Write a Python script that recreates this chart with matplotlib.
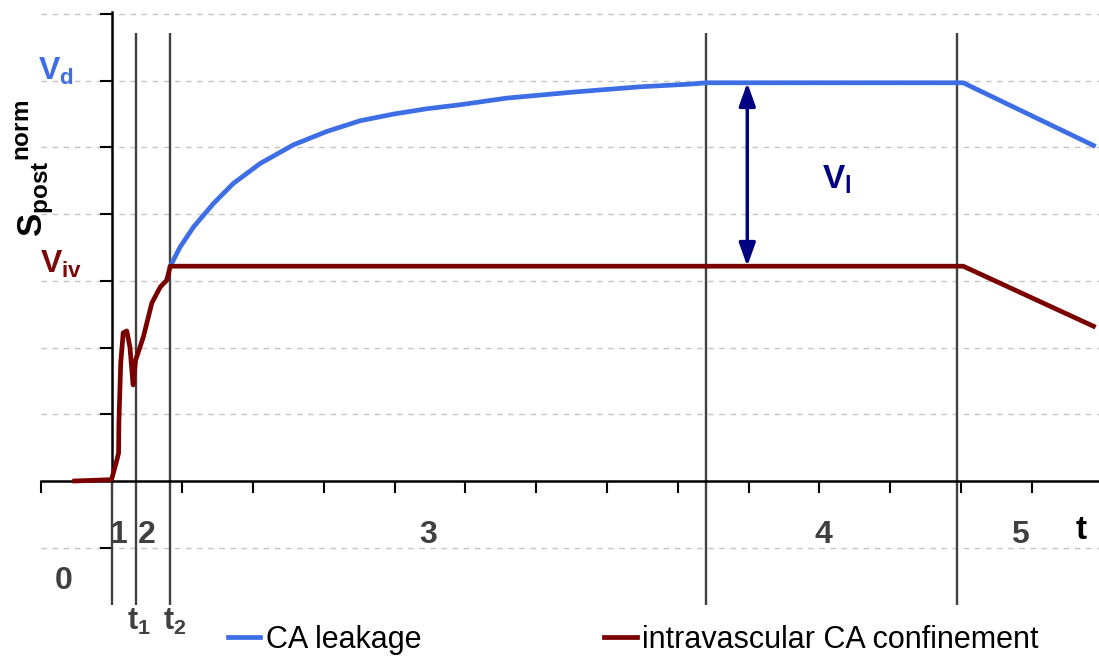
import numpy as np
import matplotlib
matplotlib.use("Agg")
import matplotlib.pyplot as plt
from matplotlib.patches import FancyArrowPatch

plt.rcParams['font.family'] = ['Liberation Sans', 'DejaVu Sans']
plt.rcParams['mathtext.fontset'] = 'custom'
plt.rcParams['mathtext.rm'] = 'Liberation Sans'
plt.rcParams['mathtext.bf'] = 'Liberation Sans:bold'
plt.rcParams['mathtext.it'] = 'Liberation Sans:italic'

# curve (x in time ticks, y in grid units)
leak_x = [1.83, 1.97, 2.16, 2.44, 2.72, 3.10, 3.57, 4.04, 4.51, 4.98, 5.45,
          5.92, 6.58, 7.52, 8.47, 9.17, 9.41, 13.03, 14.87]
leak_y = [3.22, 3.51, 3.81, 4.16, 4.46, 4.76, 5.04, 5.24, 5.40, 5.50, 5.58,
          5.64, 5.74, 5.83, 5.91, 5.95, 5.97, 5.97, 5.03]

conf_x = [0.48, 1.00, 1.07, 1.10, 1.105, 1.13, 1.165, 1.215, 1.26, 1.305,
          1.34, 1.45, 1.57, 1.69, 1.78, 1.83, 13.03, 14.87]
conf_y = [0.00, 0.02, 0.29, 0.42, 0.89, 1.77, 2.22, 2.25, 2.01, 1.44,
          1.81, 2.16, 2.67, 2.91, 3.01, 3.22, 3.22, 2.32]

phase_bounds = [1.34, 1.83, 9.40, 12.94]
phase_labels = ["0", "1", "2", "3", "4", "5"]
phase_label_x = [0.32, 1.11, 1.50, 5.47, 11.05, 13.83]
phase_label_y = [-1.50, -0.81, -0.81, -0.81, -0.81, -0.81]
grid_levels = [-1, 1, 2, 3, 4, 5, 6, 7]

V_d = 5.97
V_iv = 3.22
arrow_x = 9.98

blue = "#3d6ee6"
dred = "#7a0000"
navy = "#000080"
gray = "#404040"

fig = plt.figure(figsize=(10.99, 6.6), dpi=100)
ax = fig.add_axes([0, 0, 1, 1])
ax.set_xlim(-0.575, 14.948)
ax.set_ylim(-2.684, 7.211)

# dashed grid
ax.hlines(grid_levels, 0, 14.95, colors="#c4c4c4", linestyles=(0, (4, 4)),
          lw=1, zorder=0)

# axes through origin
for s in ["top", "right"]:
    ax.spines[s].set_visible(False)
ax.spines["left"].set_position(("data", 1))
ax.spines["bottom"].set_position(("data", 0))
ax.spines["left"].set_bounds(0, 7.03)
ax.spines["bottom"].set_bounds(0, 14.95)
for s in ["left", "bottom"]:
    ax.spines[s].set_linewidth(1.8)
ax.set_xticks(np.arange(0, 15))
ax.set_yticks(grid_levels)
ax.set_xticklabels([])
ax.set_yticklabels([])
ax.tick_params(axis="both", direction="out", length=8.6, width=1.5,
               color="black")

# phase boundaries
ax.vlines(phase_bounds, -1.86, 6.72, colors=gray, lw=1.7, zorder=2)
ax.vlines([1], -1.86, 0, colors=gray, lw=1.7, zorder=2)

ax.plot(leak_x, leak_y, color=blue, lw=3.4, label="CA leakage", zorder=3)
ax.plot(conf_x, conf_y, color=dred, lw=3.4,
        label="intravascular CA confinement", zorder=4)

arr = FancyArrowPatch((arrow_x, V_iv), (arrow_x, V_d),
                      arrowstyle="<|-|>,head_length=0.7,head_width=0.25",
                      mutation_scale=20, color=navy, lw=2.5, zorder=5,
                      shrinkA=0, shrinkB=0)
ax.add_patch(arr)

ax.text(-0.04, 6.01, r"$\mathbf{V_d}$", color=blue, fontsize=23,
        ha="left", va="baseline")
ax.text(-0.01, 3.12, r"$\mathbf{V_{iv}}$", color="#7a0a0a", fontsize=23,
        ha="left", va="baseline")
ax.text(11.04, 4.39, r"$\mathbf{V_l}$", color=navy, fontsize=24,
        ha="left", va="baseline")
ax.text(-0.08, 4.68, r"$\mathbf{S_{post}{}^{norm}}$", fontsize=25,
        rotation=90, ha="center", va="center", color="black")

for lab, lx, ly in zip(phase_labels, phase_label_x, phase_label_y):
    ax.text(lx, ly, lab, fontsize=23, fontweight="bold", color=gray,
            ha="center", va="center")
ax.text(14.69, -0.74, "t", fontsize=24, fontweight="bold", color="black",
        ha="center", va="center")
ax.text(1.22, -2.23, r"$\mathbf{t_1}$", fontsize=22, color=gray,
        ha="left", va="baseline")
ax.text(1.73, -2.23, r"$\mathbf{t_2}$", fontsize=22, color=gray,
        ha="left", va="baseline")

ax.legend(loc="center left", bbox_to_anchor=(228 / 1099, 1 - 640 / 660),
          bbox_transform=fig.transFigure, ncol=2, frameon=False,
          fontsize=22, handlelength=1.05, handletextpad=0.18,
          columnspacing=6.0, borderpad=0, borderaxespad=0)

fig.savefig("out.png", dpi=100)
